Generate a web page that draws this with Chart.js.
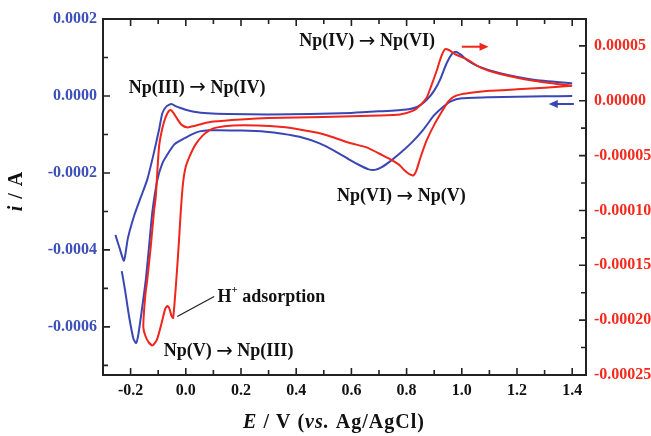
<!DOCTYPE html>
<html>
<head>
<meta charset="utf-8">
<script src="https://cdn.jsdelivr.net/npm/chart.js@4.4.0/dist/chart.umd.min.js"></script>
<style>
  html, body { margin: 0; padding: 0; background: #fff; }
</style>
</head>
<body>
<canvas id="cv" width="651" height="436"></canvas>
<script>
// Potencial (V vs Ag/AgCl) y corriente (A) leídos del voltamograma
// Curva azul, barrido positivo (desde -0.255 V hasta 1.4 V)
const azulIdaE = [-0.255, -0.240, -0.224, -0.210, -0.188, -0.164, -0.140, -0.118, -0.097, -0.085, -0.070, -0.052,
  -0.035, -0.015, 0.000, 0.030, 0.080, 0.150, 0.300, 0.450, 0.600, 0.700, 0.800, 0.840, 0.873, 0.900, 0.921,
  0.945, 0.965, 0.978, 0.995, 1.018, 1.060, 1.139, 1.260, 1.400];
const azulIdaI = [-0.000361, -0.000395, -0.000428, -0.000370, -0.000313, -0.000265, -0.000218, -0.000155, -0.000088,
  -0.000045, -0.000027, -0.000021, -0.000027, -0.000032, -0.000036, -0.000041, -0.000045, -0.000047, -0.000048,
  -0.000047, -0.000044, -0.000040, -0.000035, -0.000028, -0.000010, 0.000014, 0.000042, 0.000085, 0.000110,
  0.000115, 0.000108, 0.000094, 0.000077, 0.000059, 0.000042, 0.000033];
// Curva azul, barrido negativo (desde 1.4 V hasta el mínimo y vuelta)
const azulVueltaE = [1.400, 1.300, 1.200, 1.100, 1.000, 0.960, 0.933, 0.900, 0.860, 0.820, 0.776, 0.740, 0.710,
  0.685, 0.660, 0.630, 0.594, 0.540, 0.485, 0.412, 0.350, 0.290, 0.200, 0.120, 0.085, 0.050, 0.030, 0.000,
  -0.040, -0.065, -0.085, -0.103, -0.121, -0.133, -0.145, -0.160, -0.172, -0.180, -0.190, -0.205, -0.220, -0.232];
const azulVueltaI = [0.000000, -0.000001, -0.000002, -0.000003, -0.000006, -0.000014, -0.000028, -0.000050,
  -0.000088, -0.000120, -0.000149, -0.000170, -0.000185, -0.000192, -0.000190, -0.000180, -0.000166, -0.000143,
  -0.000123, -0.000106, -0.000098, -0.000093, -0.000090, -0.000089, -0.000089, -0.000092, -0.000097, -0.000108,
  -0.000125, -0.000150, -0.000175, -0.000218, -0.000300, -0.000390, -0.000478, -0.000560, -0.000620, -0.000642,
  -0.000630, -0.000575, -0.000505, -0.000455];
// Curva roja (eje derecho), ciclo completo desde 1.4 V
const rojaE = [1.400, 1.300, 1.200, 1.100, 1.040, 1.000, 0.970, 0.950, 0.930, 0.900, 0.873, 0.850, 0.835, 0.825,
  0.810, 0.790, 0.776, 0.745, 0.715, 0.655, 0.594, 0.530, 0.473, 0.412, 0.350, 0.260, 0.170, 0.110, 0.085,
  0.060, 0.035, 0.015, 0.000, -0.010, -0.018, -0.024, -0.032, -0.040, -0.046, -0.052, -0.060, -0.067, -0.075,
  -0.090, -0.105, -0.121, -0.135, -0.147, -0.154, -0.147, -0.140, -0.127, -0.115, -0.109, -0.097, -0.085,
  -0.073, -0.062, -0.055, -0.045, -0.030, -0.015, 0.006, 0.030, 0.060, 0.100, 0.200, 0.300, 0.500, 0.700,
  0.776, 0.824, 0.850, 0.873, 0.890, 0.909, 0.925, 0.939, 0.955, 0.975, 1.017, 1.070, 1.139, 1.260, 1.400];
const rojaI = [0.0000136, 0.0000118, 0.0000104, 0.0000090, 0.0000075, 0.0000060, 0.0000035, -0.0000010,
  -0.0000090, -0.0000220, -0.0000360, -0.0000520, -0.0000640, -0.0000680, -0.0000670, -0.0000630, -0.0000590,
  -0.0000540, -0.0000500, -0.0000425, -0.0000385, -0.0000330, -0.0000290, -0.0000262, -0.0000240, -0.0000225,
  -0.0000225, -0.0000245, -0.0000270, -0.0000320, -0.0000400, -0.0000500, -0.0000600, -0.0000750, -0.0001000,
  -0.0001250, -0.0001550, -0.0001820, -0.0001980, -0.0001960, -0.0001890, -0.0001870, -0.0001900, -0.0002050,
  -0.0002180, -0.0002230, -0.0002200, -0.0002140, -0.0002060, -0.0001780, -0.0001640, -0.0001330, -0.0001000,
  -0.0000880, -0.0000420, -0.0000250, -0.0000150, -0.0000095, -0.0000085, -0.0000110, -0.0000170, -0.0000220,
  -0.0000243, -0.0000230, -0.0000210, -0.0000190, -0.0000170, -0.0000157, -0.0000148, -0.0000135, -0.0000125,
  -0.0000091, -0.0000040, 0.0000030, 0.0000140, 0.0000273, 0.0000400, 0.0000470, 0.0000460, 0.0000425,
  0.0000379, 0.0000300, 0.0000243, 0.0000182, 0.0000136];

// Etiquetas de los ejes
const ticksE = [-0.2, 0.0, 0.2, 0.4, 0.6, 0.8, 1.0, 1.2, 1.4];
const ticksIzq = [0.0002, 0.0000, -0.0002, -0.0004, -0.0006];
const ticksDer = [0.00005, 0.00000, -0.00005, -0.00010, -0.00015, -0.00020, -0.00025];

// Textos de las reacciones (en coordenadas de datos, eje izquierdo)
const notas = [
  { texto: 'Np(III) → Np(IV)', e: 0.041, i: 0.0000208 },
  { texto: 'Np(IV) → Np(VI)', e: 0.657, i: 0.000141 },
  { texto: 'Np(VI) → Np(V)', e: 0.781, i: -0.000262 },
  { texto: 'Np(V) → Np(III)', e: 0.155, i: -0.000664 }
];

const AZUL = '#3a46b4';
const ROJO = '#f0251b';
const SERIF = '"Liberation Serif", "Times New Roman", serif';

function puntos(xs, ys) {
  return xs.map((x, k) => ({ x: x, y: ys[k] }));
}

function texto(ctx, partes, x, y, size, align, espacio) {
  // partes: [texto, cursiva, superindice, flecha]
  const fuente = p => p[3] ? `${size * 1.1}px "DejaVu Sans", sans-serif`
    : `${p[1] ? 'italic ' : ''}bold ${p[2] ? size * 0.6 : size}px ${SERIF}`;
  ctx.letterSpacing = (espacio || 0) + 'px';
  let ancho = 0;
  partes.forEach(p => { ctx.font = fuente(p); ancho += ctx.measureText(p[0]).width; });
  let cx = align === 'center' ? x - ancho / 2 : x;
  ctx.textAlign = 'left';
  ctx.textBaseline = 'middle';
  partes.forEach(p => {
    ctx.font = fuente(p);
    ctx.fillText(p[0], cx, p[2] ? y - size * 0.35 : y);
    cx += ctx.measureText(p[0]).width;
  });
  ctx.letterSpacing = '0px';
}

function conFlecha(s) {
  const [a, b] = s.split('→');
  return [[a], ['→', false, false, true], [b]];
}

function flecha(ctx, x1, x2, y, color) {
  const dir = Math.sign(x2 - x1);
  ctx.strokeStyle = color; ctx.fillStyle = color; ctx.lineWidth = 2;
  ctx.beginPath(); ctx.moveTo(x1, y); ctx.lineTo(x2 - dir * 6, y); ctx.stroke();
  ctx.beginPath(); ctx.moveTo(x2, y); ctx.lineTo(x2 - dir * 9, y - 4); ctx.lineTo(x2 - dir * 9, y + 4);
  ctx.closePath(); ctx.fill();
}

function marcas(ticks, min, max) {
  const paso = Math.abs(ticks[1] - ticks[0]) / 2;
  const t0 = Math.min(...ticks);
  const lista = [];
  for (let k = -4; k < 60; k++) {
    const v = t0 + k * paso;
    if (v >= min - 1e-12 && v <= max + 1e-12) lista.push({ v: v, mayor: k % 2 === 0 });
  }
  return lista;
}

const marco = {
  id: 'marco',
  afterDatasetsDraw(chart) {
    const { ctx, chartArea: a, scales } = chart;
    const x = scales.x, yL = scales.yL, yR = scales.yR;
    ctx.save();
    ctx.strokeStyle = '#222';
    ctx.lineWidth = 2;
    ctx.strokeRect(a.left, a.top, a.right - a.left, a.bottom - a.top);
    ctx.lineWidth = 1.6;
    ctx.beginPath();
    marcas(ticksE, x.min, x.max).forEach(m => {
      const px = x.getPixelForValue(m.v), l = m.mayor ? 7 : 5;
      ctx.moveTo(px, a.bottom); ctx.lineTo(px, a.bottom - l);
      ctx.moveTo(px, a.top); ctx.lineTo(px, a.top + l);
    });
    marcas(ticksIzq, yL.min, yL.max).forEach(m => {
      const py = yL.getPixelForValue(m.v), l = m.mayor ? 7 : 5;
      ctx.moveTo(a.left, py); ctx.lineTo(a.left + l, py);
    });
    marcas(ticksDer, yR.min, yR.max).forEach(m => {
      const py = yR.getPixelForValue(m.v), l = m.mayor ? 7 : 5;
      ctx.moveTo(a.right, py); ctx.lineTo(a.right - l, py);
    });
    ctx.stroke();

    // notas
    ctx.fillStyle = '#111';
    notas.forEach(n => {
      texto(ctx, conFlecha(n.texto), x.getPixelForValue(n.e), yL.getPixelForValue(n.i), 18, 'center');
    });
    texto(ctx, [['H'], ['+', false, true], [' adsorption']], x.getPixelForValue(0.115),
      yL.getPixelForValue(-0.000522), 18, 'left');
    ctx.strokeStyle = '#222'; ctx.lineWidth = 1.3;
    ctx.beginPath();
    ctx.moveTo(x.getPixelForValue(-0.031), yL.getPixelForValue(-0.000573));
    ctx.lineTo(x.getPixelForValue(0.103), yL.getPixelForValue(-0.000521));
    ctx.stroke();

    // flechas del sentido de barrido
    flecha(ctx, x.getPixelForValue(1.0), x.getPixelForValue(1.097), yL.getPixelForValue(0.000128), ROJO);
    flecha(ctx, x.getPixelForValue(1.406), x.getPixelForValue(1.315), yL.getPixelForValue(-0.0000208), AZUL);

    // títulos de ejes
    ctx.fillStyle = '#111';
    texto(ctx, [['E', true], [' / V ('], ['vs.', true], [' Ag/AgCl)']], 334, 423, 20, 'center', 1);
    ctx.translate(17, 191);
    ctx.rotate(-Math.PI / 2);
    texto(ctx, [['i', true], [' / A']], 0, 0, 20, 'center', 1);
    ctx.restore();
  }
};

const fuenteTicks = { family: SERIF, weight: 'bold', size: 16 };

new Chart(document.getElementById('cv'), {
  type: 'scatter',
  data: {
    datasets: [
      { data: puntos(rojaE, rojaI), yAxisID: 'yR', borderColor: ROJO },
      { data: puntos(azulIdaE, azulIdaI), yAxisID: 'yL', borderColor: AZUL },
      { data: puntos(azulVueltaE, azulVueltaI), yAxisID: 'yL', borderColor: AZUL }
    ]
  },
  options: {
    responsive: false,
    animation: false,
    devicePixelRatio: 1,
    showLine: true,
    layout: { padding: { top: 19, left: 0, right: 0, bottom: 0 } },
    elements: {
      point: { radius: 0, hoverRadius: 0 },
      line: { borderWidth: 2, tension: 0.2, fill: false }
    },
    plugins: { legend: { display: false }, tooltip: { enabled: false } },
    scales: {
      x: {
        type: 'linear', min: -0.3, max: 1.45,
        grid: { display: false, drawTicks: false },
        border: { display: false },
        afterBuildTicks: s => { s.ticks = ticksE.map(v => ({ value: v })); },
        afterFit: s => { s.height = 61; },
        ticks: { autoSkip: false, maxRotation: 0, padding: 6, color: '#111', font: fuenteTicks,
          callback: v => v.toFixed(1) }
      },
      yL: {
        type: 'linear', position: 'left', min: -0.000725, max: 0.0002,
        grid: { display: false, drawTicks: false },
        border: { display: false },
        afterBuildTicks: s => { s.ticks = ticksIzq.map(v => ({ value: v })); },
        afterFit: s => { s.width = 103; },
        ticks: { autoSkip: false, padding: 6, color: '#3d4fba', font: fuenteTicks,
          callback: v => v.toFixed(4) }
      },
      yR: {
        type: 'linear', position: 'right', min: -0.00025, max: 0.0000745,
        grid: { display: false, drawTicks: false },
        border: { display: false },
        afterBuildTicks: s => { s.ticks = ticksDer.map(v => ({ value: v })); },
        afterFit: s => { s.width = 65; },
        ticks: { autoSkip: false, padding: 8, color: '#f52a1e', font: fuenteTicks,
          callback: v => v.toFixed(5) }
      }
    }
  },
  plugins: [marco]
});
</script>
</body>
</html>
